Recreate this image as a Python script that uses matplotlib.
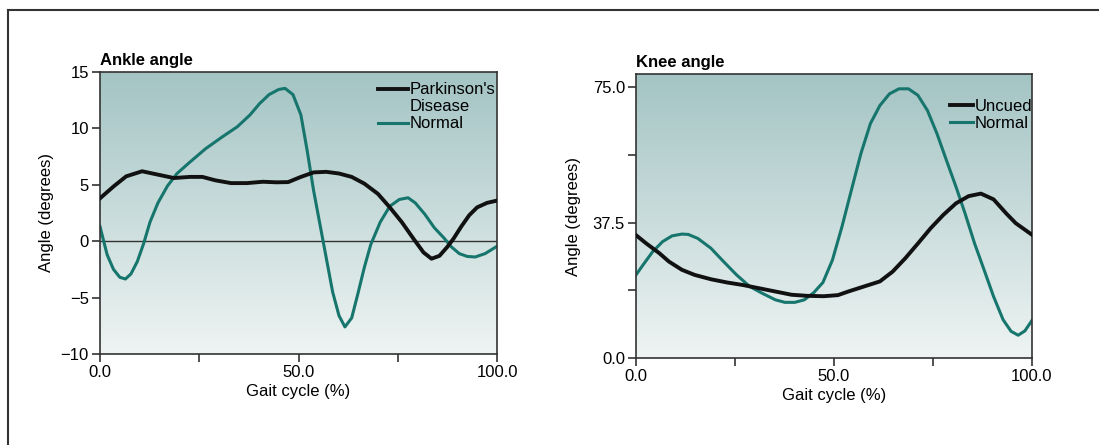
import numpy as np
import matplotlib.pyplot as plt
from matplotlib.colors import LinearSegmentedColormap
from matplotlib.lines import Line2D

# Ankle angle data (gait cycle %, degrees)
ankle_pd_x = [0, 3.4, 6.6, 10.6, 14.6, 18.6, 22.6, 25.8, 29.0, 33.0, 37.0, 41.0, 44.5, 47.4, 50.6, 53.8, 57.0,
              60.2, 63.4, 66.6, 70, 73, 76, 79, 81.5, 83.5, 85.5, 87.5, 89, 91, 93, 95, 97.5, 100]
ankle_pd_y = [3.8, 4.85, 5.75, 6.2, 5.9, 5.6, 5.7, 5.7, 5.4, 5.15, 5.15, 5.27, 5.22, 5.24, 5.7, 6.1, 6.15,
              6.0, 5.7, 5.1, 4.2, 3.0, 1.7, 0.2, -1.0, -1.55, -1.3, -0.5, 0.2, 1.3, 2.3, 3.0, 3.4, 3.6]

ankle_nm_x = [0, 1.8, 3.4, 5.0, 6.4, 7.8, 9.4, 11.0, 12.6, 14.6, 17.0, 19.4, 22.6, 26.6, 30.6, 34.6, 37.8, 40.2,
              42.6, 45.0, 46.6, 48.6, 50.6, 52.2, 53.8, 55.4, 57.0, 58.6, 60.2, 61.7, 63.4, 65.0, 66.6, 68.2,
              70.6, 73.0, 75.4, 77.6, 79.4, 81.8, 84.2, 86.6, 88.5, 90.5, 92.5, 94.5, 97, 100]
ankle_nm_y = [1.3, -1.2, -2.5, -3.2, -3.35, -2.9, -1.8, -0.2, 1.7, 3.4, 4.9, 6.0, 7.0, 8.2, 9.2, 10.15, 11.2, 12.2,
              13.0, 13.45, 13.55, 13.0, 11.2, 8.0, 4.5, 1.5, -1.5, -4.5, -6.6, -7.6, -6.8, -4.6, -2.3, -0.3,
              1.7, 3.1, 3.7, 3.85, 3.4, 2.4, 1.2, 0.3, -0.5, -1.1, -1.35, -1.4, -1.1, -0.45]

# Knee angle data
knee_uc_x = [0, 2.6, 5.9, 8.3, 11.6, 14.8, 18.9, 23.0, 27.0, 31.1, 35.2, 39.3, 43.3, 47.4, 51, 53.6, 57.6, 61.6,
             64.8, 68.0, 71.2, 74.4, 77.6, 80.8, 84.0, 87.1, 90.3, 93.5, 95.9, 100]
knee_uc_y = [34.0, 31.7, 29.0, 26.7, 24.4, 23.0, 21.8, 20.9, 20.2, 19.3, 18.4, 17.5, 17.2, 17.1, 17.4, 18.4, 19.8, 21.2,
             23.9, 27.6, 31.7, 35.9, 39.6, 42.8, 44.8, 45.5, 43.9, 40.0, 37.3, 34.1]

knee_nm_x = [0, 1.8, 4.2, 6.7, 9.1, 11.6, 13.2, 15.6, 18.9, 22.1, 25.4, 28.7, 31.9, 35.2, 37.6, 40.1, 42.5, 44.9,
             47.2, 49.6, 52.0, 54.4, 56.8, 59.2, 61.6, 64.0, 66.4, 68.8, 71.2, 73.6, 76.0, 78.4, 80.8, 83.1,
             85.5, 87.9, 90.3, 92.7, 94.7, 96.5, 98.2, 100]
knee_nm_y = [23.0, 25.8, 29.4, 32.2, 33.8, 34.3, 34.2, 33.1, 30.4, 26.7, 23.0, 19.8, 17.9, 16.1, 15.4, 15.4, 16.1, 18.1,
             20.9, 27.1, 36.3, 46.5, 56.6, 64.9, 69.9, 73.1, 74.5, 74.5, 72.7, 68.5, 62.1, 54.7, 47.4, 40.0,
             31.7, 24.4, 17.0, 10.6, 7.4, 6.3, 7.5, 10.4]

plt.rcParams['font.family'] = ['Liberation Sans', 'DejaVu Sans']
plt.rcParams['font.size'] = 12

BLACK = '#111111'
TEAL = '#16756c'
grad = LinearSegmentedColormap.from_list('bg', ['#eef4f3', '#a4c4c4'])

fig = plt.figure(figsize=(10.99, 4.45), dpi=100)

# outer frame lines
fig.add_artist(Line2D([8 / 1099, 8 / 1099], [0, 1 - 10 / 445], transform=fig.transFigure, color='#333333', lw=1.5))
fig.add_artist(Line2D([8 / 1099, 1], [1 - 10 / 445, 1 - 10 / 445], transform=fig.transFigure, color='#333333', lw=1.5))


def style_axes(ax, xlim, ylim, ylab_x):
    ax.set_xlim(*xlim)
    ax.set_ylim(*ylim)
    g = np.linspace(0, 1, 256).reshape(-1, 1)
    ax.imshow(g, cmap=grad, aspect='auto', origin='lower',
              extent=[xlim[0], xlim[1], ylim[0], ylim[1]], zorder=0)
    for s in ax.spines.values():
        s.set_color('#333333')
        s.set_linewidth(1.2)
    ax.tick_params(which='both', direction='out', length=6, width=1.2, color='#333333', pad=2)
    ax.set_xticks([0, 50, 100])
    ax.set_xticklabels(['0.0', '50.0', '100.0'])
    ax.set_xticks([25, 75], minor=True)
    ax.set_xlabel('Gait cycle (%)', labelpad=3)
    ax.set_ylabel('Angle (degrees)')
    ax.yaxis.set_label_coords(ylab_x, 0.5)


blank = Line2D([], [], color='none')

# Ankle
ax1 = fig.add_axes([100 / 1099, 1 - 354 / 445, 397 / 1099, 282 / 445])
style_axes(ax1, (0, 100), (-10, 15), -0.116)
ax1.axhline(0, color='#333333', lw=1.0, zorder=1)
l_pd, = ax1.plot(ankle_pd_x, ankle_pd_y, color=BLACK, lw=2.8, zorder=3)
l_nm, = ax1.plot(ankle_nm_x, ankle_nm_y, color=TEAL, lw=2.2, zorder=2)
ax1.set_yticks([-10, -5, 0, 5, 10, 15])
ax1.set_title('Ankle angle', loc='left', fontweight='bold', fontsize=12, pad=5)
ax1.legend([l_pd, blank, l_nm], ["Parkinson's", 'Disease', 'Normal'],
           loc='upper left', bbox_to_anchor=(0.70, 0.963), frameon=False, handlelength=1.8,
           handletextpad=0.1, labelspacing=0.12, borderpad=0, borderaxespad=0)

# Knee
ax2 = fig.add_axes([636 / 1099, 1 - 358 / 445, 396 / 1099, 284 / 445])
style_axes(ax2, (0, 100), (0, 78.6), -0.139)
k_uc, = ax2.plot(knee_uc_x, knee_uc_y, color=BLACK, lw=2.8, zorder=3)
k_nm, = ax2.plot(knee_nm_x, knee_nm_y, color=TEAL, lw=2.2, zorder=2)
ax2.set_yticks([0, 37.5, 75])
ax2.set_yticklabels(['0.0', '37.5', '75.0'])
ax2.set_yticks([18.75, 56.25], minor=True)
ax2.set_title('Knee angle', loc='left', fontweight='bold', fontsize=12, pad=5)
ax2.legend([k_uc, k_nm], ['Uncued', 'Normal'],
           loc='upper left', bbox_to_anchor=(0.793, 0.912), frameon=False, handlelength=1.4,
           handletextpad=0.1, labelspacing=0.12, borderpad=0, borderaxespad=0)

fig.savefig('out.png', dpi=100)
